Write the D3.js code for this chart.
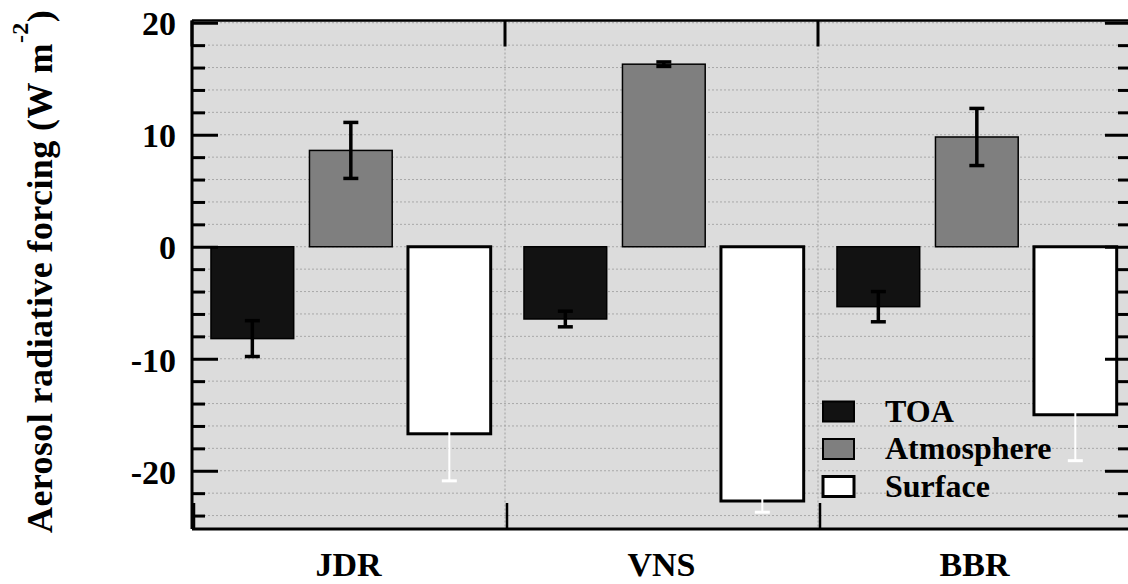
<!DOCTYPE html>
<html><head><meta charset="utf-8">
<script src="https://cdn.jsdelivr.net/npm/d3@7"></script>
<style>body{margin:0;background:#fff}svg{display:block}svg text{font-family:'Liberation Serif','DejaVu Serif','Noto Serif','FreeSerif','Nimbus Roman',Times,serif !important;font-weight:bold}</style>
</head><body>
<svg id="c" width="1128" height="584"></svg>
<script>
const categories = ["JDR", "VNS", "BBR"];
const seriesNames = ["TOA", "Atmosphere", "Surface"];
const toaValues = [-8.2, -6.45, -5.35];
const toaErrors = [1.6, 0.7, 1.35];
const atmValues = [8.6, 16.3, 9.8];
const atmErrors = [2.5, 0.2, 2.55];
const sfcValues = [-16.7, -22.7, -15.0];
const sfcErrors = [4.2, 1.0, 4.1];
const majorTicks = [20, 10, 0, -10, -20];
const minorTicks = d3.range(-24, 21, 2).filter(v => v % 10 !== 0);
const gridValues = d3.range(-24, 21, 2);

const fills = {TOA: "#121212", Atmosphere: "#7f7f7f", Surface: "#ffffff"};
const strokeW = {TOA: 1.5, Atmosphere: 1.5, Surface: 3};
const errColor = {TOA: "#000", Atmosphere: "#000", Surface: "#fff"};
const errW = {TOA: 3.5, Atmosphere: 3.5, Surface: 2};

const series = [
  {name: "TOA", values: toaValues, errors: toaErrors},
  {name: "Atmosphere", values: atmValues, errors: atmErrors},
  {name: "Surface", values: sfcValues, errors: sfcErrors}
];

const svg = d3.select("#c");
const L = 192, R = 1131, T = 20.5, B = 529;
const y = d3.scaleLinear().domain([-25.2, 20.2]).range([B, T]);
const x0 = d3.scaleBand().domain(categories).range([L, R]).paddingInner(0).paddingOuter(0);
const x1 = d3.scaleBand().domain(seriesNames).range([0, x0.bandwidth()]).paddingInner(0.16).paddingOuter(0.169).align(0.57);

svg.append("rect").attr("x", L).attr("y", T).attr("width", R - L).attr("height", B - T).attr("fill", "#dcdcdc");

svg.append("g").selectAll("line").data(gridValues).join("line")
  .attr("x1", L).attr("x2", R).attr("y1", d => y(d)).attr("y2", d => y(d))
  .attr("stroke", "#a8a8a8").attr("stroke-width", 1).attr("stroke-dasharray", "2,2");
svg.append("g").selectAll("line").data(categories.slice(1)).join("line")
  .attr("x1", d => x0(d)).attr("x2", d => x0(d)).attr("y1", T).attr("y2", B)
  .attr("stroke", "#a0a0a0").attr("stroke-width", 1).attr("stroke-dasharray", "2,2");

const groups = svg.append("g").selectAll("g").data(series).join("g");
groups.selectAll("rect").data(s => s.values.map((v, i) => ({s: s.name, cat: categories[i], v}))).join("rect")
  .attr("x", d => x0(d.cat) + x1(d.s))
  .attr("width", x1.bandwidth())
  .attr("y", d => y(Math.max(0, d.v)))
  .attr("height", d => Math.abs(y(d.v) - y(0)))
  .attr("fill", d => fills[d.s])
  .attr("stroke", "#000")
  .attr("stroke-width", d => strokeW[d.s]);

const eb = svg.append("g");
series.forEach(s => {
  s.values.forEach((v, i) => {
    const cx = x0(categories[i]) + x1(s.name) + x1.bandwidth() / 2;
    const lo = y(v - s.errors[i]), hi = y(v + s.errors[i]);
    const g = eb.append("g").attr("stroke", errColor[s.name]);
    g.append("line").attr("x1", cx).attr("x2", cx).attr("y1", lo).attr("y2", hi).attr("stroke-width", errW[s.name]);
    [lo, hi].forEach(yy => g.append("line").attr("x1", cx - 7.5).attr("x2", cx + 7.5).attr("y1", yy).attr("y2", yy).attr("stroke-width", s.name === "Surface" ? 3 : 3.5));
  });
});

const leftMajor = d3.axisRight(y).tickValues(majorTicks).tickSize(26).tickFormat("");
const leftMinor = d3.axisRight(y).tickValues(minorTicks).tickSize(13).tickFormat("");
const rightMajor = d3.axisLeft(y).tickValues(majorTicks).tickSize(26).tickFormat("");
const rightMinor = d3.axisLeft(y).tickValues(minorTicks).tickSize(13).tickFormat("");
[[leftMajor, L], [leftMinor, L], [rightMajor, R], [rightMinor, R]].forEach(([ax, xx]) => {
  const g = svg.append("g").attr("transform", `translate(${xx},0)`).call(ax);
  g.select(".domain").remove();
  g.selectAll("line").attr("stroke", "#000").attr("stroke-width", 3);
});
const xb = categories.map(c => x0(c)).concat([R]);
svg.append("g").selectAll("line").data(xb).join("line")
  .attr("x1", d => d).attr("x2", d => d).attr("y1", T).attr("y2", T + 26).attr("stroke", "#000").attr("stroke-width", 3);
svg.append("g").selectAll("line").data(xb).join("line")
  .attr("x1", d => d + 2).attr("x2", d => d + 2).attr("y1", B - 26).attr("y2", B).attr("stroke", "#000").attr("stroke-width", 2.5);

svg.append("line").attr("x1", L).attr("x2", R).attr("y1", T).attr("y2", T).attr("stroke", "#000").attr("stroke-width", 2.5);
svg.append("line").attr("x1", L).attr("x2", R).attr("y1", B).attr("y2", B).attr("stroke", "#000").attr("stroke-width", 3);
svg.append("line").attr("x1", L).attr("x2", L).attr("y1", T).attr("y2", B).attr("stroke", "#000").attr("stroke-width", 3);
svg.append("line").attr("x1", R).attr("x2", R).attr("y1", T).attr("y2", B).attr("stroke", "#000").attr("stroke-width", 3);

const yl = svg.append("g").attr("transform", `translate(${L},0)`)
  .call(d3.axisLeft(y).tickValues(majorTicks).tickSize(0).tickPadding(16).tickFormat(d => String(d)));
yl.select(".domain").remove();
yl.attr("font-family", null);
yl.selectAll("text").attr("font-size", 34).attr("fill", "#000").attr("dy", "0.36em");

svg.append("g").selectAll("text").data(categories).join("text")
  .attr("x", d => x0(d) + x0.bandwidth() / 2).attr("y", 576)
  .attr("text-anchor", "middle").attr("font-size", 34).attr("fill", "#000").text(d => d);

const yt = svg.append("text").attr("transform", "translate(52,533) rotate(-90)")
  .attr("font-size", 36).attr("letter-spacing", 0.4).attr("fill", "#000");
yt.append("tspan").text("Aerosol radiative forcing (W m");
yt.append("tspan").attr("font-size", 24).attr("dy", -24).text("-2");
yt.append("tspan").attr("dy", 24).text(")");

const lg = svg.append("g");
seriesNames.forEach((n, i) => {
  const cy = 411.5 + i * 37.5;
  lg.append("rect").attr("x", 823).attr("y", cy - 10).attr("width", 31).attr("height", 20)
    .attr("fill", fills[n]).attr("stroke", "#000").attr("stroke-width", n === "Surface" ? 3 : 2);
  lg.append("text").attr("x", 885).attr("y", cy + 10).attr("font-size", 32).attr("fill", "#000").text(n);
});
</script>
</body></html>
